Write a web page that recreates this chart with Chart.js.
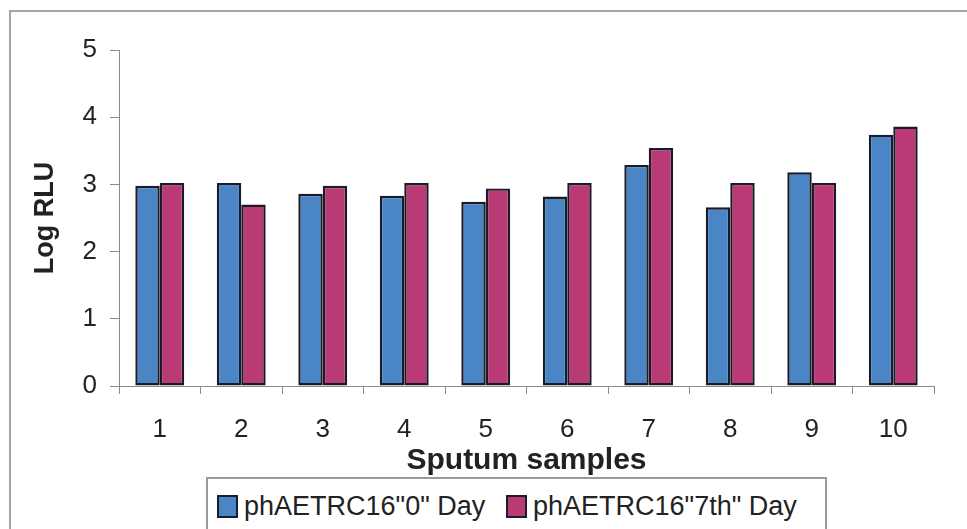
<!DOCTYPE html>
<html>
<head>
<meta charset="utf-8">
<script src="https://cdn.jsdelivr.net/npm/chart.js@4.4.1/dist/chart.umd.min.js"></script>
<style>
  html, body { margin: 0; padding: 0; background: #fff; overflow: hidden; width: 967px; height: 529px; }
  #frame { position: absolute; left: 9px; top: 10px; width: 1000px; height: 600px; border: 2px solid #a6a6a6; }
  #chart { position: absolute; left: 0; top: 0; }
  #legend {
    position: absolute; left: 206px; top: 477px; width: 617px; height: 80px;
    border: 2px solid #9a9a9a; background: #fff;
    font-family: 'Liberation Sans', Arial, sans-serif; font-size: 27px; color: #222;
  }
  .item { position: absolute; top: 12px; white-space: nowrap; line-height: 31px; }
  .swatch { display: inline-block; width: 17px; height: 19px; border: 2px solid #1c1c2c; vertical-align: -3px; margin-right: 6px; }
</style>
</head>
<body>
<div id="frame"></div>
<canvas id="chart" width="967" height="529"></canvas>
<div id="legend"></div>
<script>
// chart data
const samples = ['1', '2', '3', '4', '5', '6', '7', '8', '9', '10'];
const day0 = [2.98, 3.02, 2.86, 2.83, 2.74, 2.82, 3.29, 2.66, 3.18, 3.74];
const day7 = [3.02, 2.70, 2.98, 3.02, 2.94, 3.02, 3.54, 3.02, 3.02, 3.86];
const seriesNames = ['phAETRC16"0" Day', 'phAETRC16"7th" Day'];
const seriesColors = ['#4a86c6', '#ba3a75'];
const yTicks = [0, 1, 2, 3, 4, 5];

const FONT = "'Liberation Sans', Arial, sans-serif";
const axisGray = '#8a8a8a';

const ctx = document.getElementById('chart').getContext('2d');

const chart = new Chart(ctx, {
  type: 'bar',
  data: {
    labels: samples,
    datasets: [day0, day7].map((vals, i) => ({
      label: seriesNames[i],
      data: vals,
      backgroundColor: seriesColors[i],
      borderColor: '#1a1a28',
      borderWidth: 2.4,
      borderSkipped: false,
      categoryPercentage: 0.6,
      barPercentage: 1.0
    }))
  },
  options: {
    responsive: false,
    animation: false,
    devicePixelRatio: 1,
    layout: { padding: { left: 20, top: 50, right: 33, bottom: 50 } },
    plugins: {
      legend: { display: false },
      tooltip: { enabled: false }
    },
    scales: {
      x: {
        grid: { display: true, drawOnChartArea: false, drawTicks: true, tickLength: 8, color: axisGray, offset: true },
        border: { color: axisGray, width: 1 },
        ticks: { color: '#222', font: { family: FONT, size: 26 }, padding: 20, maxRotation: 0 },
        title: {
          display: true, text: 'Sputum samples', color: '#222',
          font: { family: FONT, size: 30, weight: 'bold' }, padding: { top: 0, bottom: 0 }
        },
        afterFit: (scale) => { scale.height = 93; }
      },
      y: {
        min: 0, max: 5,
        afterBuildTicks: (scale) => { scale.ticks = yTicks.map(v => ({ value: v })); },
        grid: { display: true, drawOnChartArea: false, drawTicks: true, tickLength: 9, color: axisGray },
        border: { color: axisGray, width: 1 },
        ticks: { color: '#222', font: { family: FONT, size: 26 }, padding: 13 },
        title: {
          display: true, text: 'Log RLU', color: '#222',
          font: { family: FONT, size: 27, weight: 'bold' }, padding: { top: 9, bottom: 0 }
        },
        afterFit: (scale) => { scale.width = 99; }
      }
    }
  }
});

// legend built from the dataset names/colours
const legend = document.getElementById('legend');
const itemLeft = [9, 298];
chart.data.datasets.forEach((ds, i) => {
  const el = document.createElement('div');
  el.className = 'item';
  el.style.left = itemLeft[i] + 'px';
  const sw = document.createElement('span');
  sw.className = 'swatch';
  sw.style.background = ds.backgroundColor;
  el.appendChild(sw);
  el.appendChild(document.createTextNode(ds.label));
  legend.appendChild(el);
});
</script>
</body>
</html>
